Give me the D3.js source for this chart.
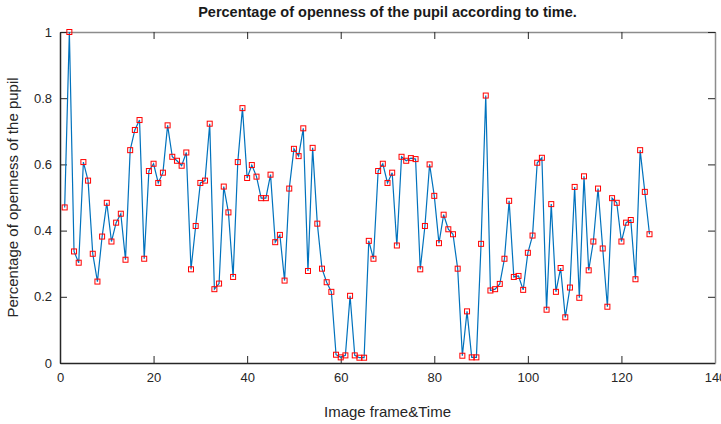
<!DOCTYPE html>
<html>
<head>
<meta charset="utf-8">
<script src="https://cdn.jsdelivr.net/npm/d3@7"></script>
<style>
  body { margin: 0; background: #fff; }
  text { font-family: "Liberation Sans", Arial, sans-serif; }
</style>
</head>
<body>
<div id="chart"></div>
<script>
// openness of the pupil, one value per image frame (frames 1..126)
var openness = [
  0.470, 1.000, 0.337, 0.303, 0.607, 0.551, 0.330, 0.246, 0.382, 0.484,
  0.367, 0.424, 0.451, 0.312, 0.643, 0.704, 0.734, 0.315, 0.580, 0.602,
  0.544, 0.575, 0.718, 0.623, 0.611, 0.596, 0.636, 0.283, 0.414, 0.544,
  0.551, 0.723, 0.223, 0.240, 0.533, 0.455, 0.260, 0.607, 0.770, 0.559,
  0.598, 0.563, 0.498, 0.498, 0.569, 0.365, 0.387, 0.249, 0.527, 0.647,
  0.625, 0.709, 0.278, 0.650, 0.421, 0.285, 0.244, 0.215, 0.025, 0.017,
  0.023, 0.203, 0.023, 0.016, 0.016, 0.369, 0.315, 0.580, 0.602, 0.544,
  0.575, 0.355, 0.623, 0.611, 0.619, 0.616, 0.283, 0.414, 0.600, 0.505,
  0.362, 0.448, 0.404, 0.389, 0.285, 0.022, 0.156, 0.017, 0.017, 0.360,
  0.808, 0.219, 0.223, 0.239, 0.315, 0.490, 0.260, 0.263, 0.221, 0.333,
  0.385, 0.605, 0.620, 0.161, 0.480, 0.215, 0.287, 0.138, 0.228, 0.532,
  0.197, 0.564, 0.280, 0.367, 0.527, 0.346, 0.170, 0.498, 0.484, 0.367,
  0.424, 0.432, 0.253, 0.643, 0.517, 0.389
];
var frames = d3.range(1, openness.length + 1);
var xTicks = [0, 20, 40, 60, 80, 100, 120, 140];
var yTicks = [0, 0.2, 0.4, 0.6, 0.8, 1];

var data = frames.map(function(f, i) { return {frame: f, value: openness[i]}; });

var margin = {top: 32, right: 6, bottom: 61, left: 60};
var width = 721 - margin.left - margin.right;
var height = 424 - margin.top - margin.bottom;

var svg = d3.select("#chart").append("svg")
    .attr("width", 721)
    .attr("height", 424)
  .append("g")
    .attr("transform", "translate(" + margin.left + "," + margin.top + ")");

var x = d3.scaleLinear().domain([0, 140]).range([0, width]);
var y = d3.scaleLinear().domain([0, 1]).range([height, 0]);

// box with inward ticks on all four sides (matlab style)
svg.append("g")
  .attr("transform", "translate(0," + height + ")")
  .call(d3.axisBottom(x).tickValues(xTicks).tickSizeInner(-7).tickSizeOuter(0).tickPadding(10))
  .call(function(g) {
    g.select(".domain").attr("stroke", "#262626").attr("stroke-width", 1.5);
    g.selectAll(".tick line").attr("stroke", "#262626");
    g.selectAll(".tick text").attr("font-size", 13).attr("fill", "#262626");
  });

svg.append("g")
  .call(d3.axisTop(x).tickValues(xTicks).tickSizeInner(-7).tickSizeOuter(0).tickFormat(""))
  .call(function(g) {
    g.select(".domain").attr("stroke", "#8c8c8c").attr("stroke-width", 1.5);
    g.selectAll(".tick line").attr("stroke", "#262626");
  });

svg.append("g")
  .call(d3.axisLeft(y).tickValues(yTicks).tickSizeInner(-7).tickSizeOuter(0).tickPadding(8)
    .tickFormat(function(d) { return d; }))
  .call(function(g) {
    g.select(".domain").attr("stroke", "#262626").attr("stroke-width", 1.5);
    g.selectAll(".tick line").attr("stroke", "#262626");
    g.selectAll(".tick text").attr("font-size", 13).attr("fill", "#262626");
  });

svg.append("g")
  .attr("transform", "translate(" + width + ",0)")
  .call(d3.axisRight(y).tickValues(yTicks).tickSizeInner(-7).tickSizeOuter(0).tickFormat(""))
  .call(function(g) {
    g.select(".domain").attr("stroke", "#8c8c8c").attr("stroke-width", 1.5);
    g.selectAll(".tick line").attr("stroke", "#262626");
  });

var line = d3.line()
  .x(function(d) { return x(d.frame); })
  .y(function(d) { return y(d.value); });

svg.append("path")
  .datum(data)
  .attr("fill", "none")
  .attr("stroke", "#0072bd")
  .attr("stroke-width", 1.2)
  .attr("d", line);

// red square markers
svg.selectAll(".dot")
  .data(data)
  .enter()
  .append("rect")
    .attr("class", "dot")
    .attr("x", function(d) { return x(d.frame) - 2.5; })
    .attr("y", function(d) { return y(d.value) - 2.5; })
    .attr("width", 5)
    .attr("height", 5)
    .attr("fill", "none")
    .attr("stroke", "#ff0000")
    .attr("stroke-width", 1);

svg.append("text")
  .attr("x", width / 2)
  .attr("y", -15)
  .attr("text-anchor", "middle")
  .attr("font-size", 14.5)
  .attr("font-weight", "bold")
  .attr("fill", "#1a1a1a")
  .text("Percentage of openness of the pupil according to time.");

svg.append("text")
  .attr("x", width / 2)
  .attr("y", height + 54)
  .attr("text-anchor", "middle")
  .attr("font-size", 15)
  .attr("fill", "#262626")
  .text("Image frame&Time");

svg.append("text")
  .attr("transform", "rotate(-90)")
  .attr("x", -height / 2)
  .attr("y", -42)
  .attr("text-anchor", "middle")
  .attr("font-size", 15)
  .attr("fill", "#262626")
  .text("Percentage of openness of the pupil");
</script>
</body>
</html>
